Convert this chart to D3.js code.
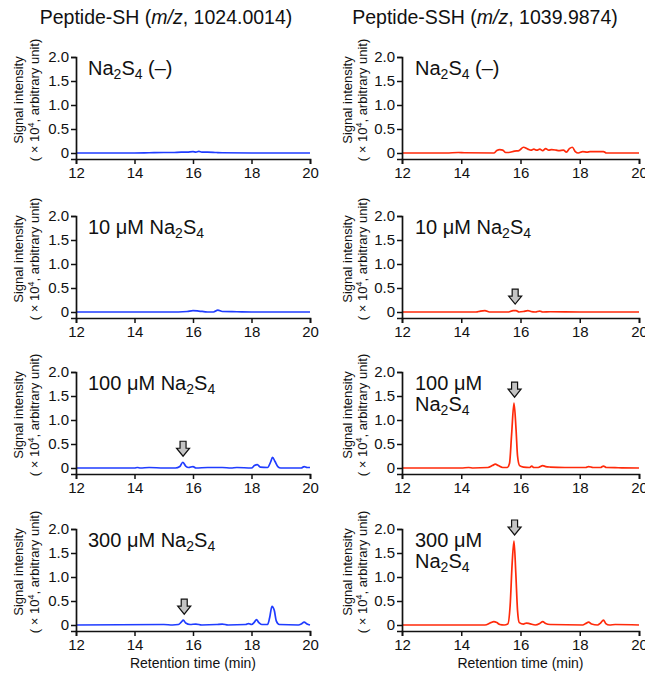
<!DOCTYPE html>
<html>
<head>
<meta charset="utf-8">
<script src="https://cdn.jsdelivr.net/npm/d3@7"></script>
<style>
  body { margin: 0; background: #fff; }
  text { font-family: "Liberation Sans", Arial, sans-serif; fill: #111; }
</style>
</head>
<body>
<div id="chart-container"></div>
<script>
  // Column titles and row conditions
  var columns = ['SH', 'SSH'];
  var rowLabels = [
      [['Na', '2', 'S', '4', ' (\u2013)']],
      [['10 \u03bcM Na', '2', 'S', '4']],
      [['100 \u03bcM Na', '2', 'S', '4']],
      [['300 \u03bcM Na', '2', 'S', '4']]
  ];
  var rowLabelsRight = [
      [['Na', '2', 'S', '4', ' (\u2013)']],
      [['10 \u03bcM Na', '2', 'S', '4']],
      [['100 \u03bcM'], ['Na', '2', 'S', '4']],
      [['300 \u03bcM'], ['Na', '2', 'S', '4']]
  ];
  var xTicks = [12, 14, 16, 18, 20];
  var yTicks = [0, 0.5, 1.0, 1.5, 2.0];
  var yTickLabels = ['0', '0.5', '1.0', '1.5', '2.0'];

  // Chromatogram traces: [retention time (min), intensity (x10^4)]
  var sh0 = [[12,0],[14,0],[14.5,0.005],[15,0.01],[15.3,0.01],[15.6,0.02],[15.8,0.02],[16.0,0.03],[16.1,0.02],[16.2,0.035],[16.3,0.02],[16.5,0.02],[16.8,0.01],[17,0.005],[18,0],[20,0]];
  var sh10 = [[12,0],[15.5,0],[15.8,0.01],[16.0,0.03],[16.2,0.02],[16.5,0.0],[16.7,0.0],[16.85,0.04],[17.0,0.01],[17.5,0.005],[18,0],[20,0]];
  var sh100 = [[12,0],[14,0],[14.1,0.01],[14.2,0],[14.5,0.01],[15,0.0],[15.4,0],[15.55,0.03],[15.65,0.12],[15.75,0.04],[15.85,0.01],[16,0.03],[16.1,0],[16.5,0.01],[17,0.01],[17.3,0],[17.5,0.01],[18,0],[18.1,0.05],[18.2,0.07],[18.3,0.02],[18.55,0.01],[18.65,0.12],[18.72,0.22],[18.8,0.14],[18.9,0.03],[19,0.0],[19.7,0.0],[19.8,0.03],[19.9,0.01],[20,0.01]];
  var sh300 = [[12,0],[15,0.01],[15.3,0.0],[15.5,0.01],[15.6,0.06],[15.67,0.1],[15.75,0.04],[15.9,0.01],[16.1,0.02],[16.3,0],[16.8,0.01],[17,0.02],[17.2,0.0],[17.8,0.01],[17.9,0.03],[18.0,0.01],[18.1,0.06],[18.17,0.11],[18.25,0.05],[18.35,0.01],[18.55,0.01],[18.62,0.15],[18.7,0.39],[18.78,0.3],[18.85,0.08],[18.95,0.01],[19.6,0.0],[19.7,0.02],[19.8,0.06],[19.9,0.02],[20,0.0]];

  var ssh0 = [[12,0],[13.5,0],[13.9,0.01],[14.1,0.005],[15.1,0.0],[15.2,0.05],[15.3,0.07],[15.4,0.06],[15.5,0.01],[15.6,0.01],[15.8,0.04],[15.95,0.05],[16.1,0.12],[16.25,0.08],[16.35,0.06],[16.45,0.08],[16.55,0.06],[16.65,0.08],[16.75,0.05],[16.85,0.09],[16.95,0.06],[17.05,0.07],[17.2,0.06],[17.3,0.05],[17.45,0.06],[17.55,0.02],[17.65,0.09],[17.75,0.12],[17.85,0.03],[17.95,0.0],[18.1,0.03],[18.25,0.02],[18.35,0.03],[18.5,0.03],[18.65,0.03],[18.8,0.03],[18.9,0.0],[20,0]];
  var ssh10 = [[12,0],[14.5,0],[14.65,0.02],[14.8,0.03],[14.95,0.0],[15.6,0],[15.75,0.03],[15.85,0.03],[15.95,0.0],[16.1,0.01],[16.25,0.03],[16.35,0.01],[16.5,0.0],[16.65,0.02],[16.75,0.0],[17,0.005],[18,0],[20,0]];
  var ssh100 = [[12,0],[14,0],[14.25,0.01],[14.4,0],[14.9,0.01],[15.05,0.05],[15.15,0.08],[15.25,0.05],[15.4,0.01],[15.55,0.01],[15.63,0.1],[15.7,0.7],[15.78,1.35],[15.85,0.8],[15.9,0.25],[15.97,0.05],[16.1,0.02],[16.3,0.01],[16.38,0.04],[16.45,0.01],[16.6,0.01],[16.75,0.05],[16.85,0.03],[17,0.02],[17.5,0.01],[18.2,0.01],[18.3,0.03],[18.45,0.01],[18.7,0.01],[18.8,0.04],[18.9,0.01],[19.3,0.005],[20,0]];
  var ssh300 = [[12,0],[14.8,0],[15.0,0.05],[15.1,0.07],[15.2,0.05],[15.3,0.01],[15.45,0.0],[15.57,0.02],[15.65,0.4],[15.72,1.3],[15.78,1.75],[15.84,1.1],[15.9,0.3],[15.96,0.05],[16.1,0.02],[16.2,0.04],[16.3,0.03],[16.5,0.0],[16.65,0.03],[16.75,0.07],[16.85,0.03],[17,0.01],[18.1,0.0],[18.2,0.03],[18.3,0.06],[18.4,0.02],[18.6,0.0],[18.7,0.04],[18.8,0.1],[18.88,0.03],[19,0.0],[19.2,0.01],[20,0]];

  var shSeries = [sh0, sh10, sh100, sh300];
  var sshSeries = [ssh0, ssh10, ssh100, ssh300];

  // Arrows marking the peaks: [time, intensity at peak] or null
  var shArrows = [null, null, [15.66, 0.12], [15.7, 0.1]];
  var sshArrows = [null, [15.82, 0.04], [15.8, 1.35], [15.8, 1.75]];

  var width = 645;
  var height = 675;
  var svg = d3.select('#chart-container')
      .append('svg')
      .attr('width', width)
      .attr('height', height);

  // Column titles
  var titles = [
      { x: 166, parts: ['Peptide-SH (', 'm/z', ', 1024.0014)'] },
      { x: 485, parts: ['Peptide-SSH (', 'm/z', ', 1039.9874)'] }
  ];
  titles.forEach(function(t) {
      var txt = svg.append('text')
          .attr('x', t.x).attr('y', 24)
          .attr('text-anchor', 'middle')
          .style('font-size', '19.5px');
      t.parts.forEach(function(p, i) {
          txt.append('tspan').text(p).style('font-style', i === 1 ? 'italic' : 'normal');
      });
  });

  var zeroYs = [153, 312, 468, 625];
  var cols = [
      { x0: 76, x1: 310, series: shSeries, arrows: shArrows, color: '#1f3cff', labels: rowLabels, lx: 88, tOff: [58, 42] },
      { x0: 402, x1: 639, series: sshSeries, arrows: sshArrows, color: '#ff2a0a', labels: rowLabelsRight, lx: 415, tOff: [55, 40] }
  ];

  cols.forEach(function(col, ci) {
      var xScale = d3.scaleLinear().domain([12, 20]).range([col.x0, col.x1]);

      zeroYs.forEach(function(zy, ri) {
          var yScale = d3.scaleLinear().domain([-0.125, 2]).range([zy + 6, zy - 96]);
          var g = svg.append('g');

          // Trace
          var line = d3.line()
              .x(function(d) { return xScale(d[0]); })
              .y(function(d) { return yScale(d[1]); })
              .curve(d3.curveMonotoneX);
          g.append('path')
              .datum(col.series[ri])
              .attr('d', line)
              .attr('fill', 'none')
              .attr('stroke', col.color)
              .attr('stroke-width', 1.7);

          // x-axis
          var xa = g.append('g')
              .attr('transform', 'translate(0,' + (zy + 6) + ')')
              .call(d3.axisBottom(xScale).tickValues(xTicks).tickSizeOuter(0).tickSize(5).tickPadding(3));
          // y-axis
          var ya = g.append('g')
              .attr('transform', 'translate(' + col.x0 + ',0)')
              .call(d3.axisLeft(yScale).tickValues(yTicks).tickSizeOuter(0).tickSize(5).tickPadding(2)
                  .tickFormat(function(d, i) { return yTickLabels[i]; }));
          [xa, ya].forEach(function(a) {
              a.select('.domain').attr('stroke', '#111').attr('stroke-width', 1.7);
              a.selectAll('.tick line').attr('stroke', '#111').attr('stroke-width', 1.5);
              a.selectAll('.tick text').style('font-size', '15px').attr('fill', '#111')
                  .style('font-family', '"Liberation Sans", Arial, sans-serif');
          });

          // y-axis title (two lines)
          var cy = zy - 53;
          [['Signal intensity'], ['( \u00d7 10', '4', ', arbitrary unit)']].forEach(function(parts, li) {
              var tx = col.x0 - col.tOff[li];
              var t = g.append('text')
                  .attr('transform', 'translate(' + tx + ',' + cy + ') rotate(-90)')
                  .attr('text-anchor', 'middle')
                  .attr('dy', '0.35em')
                  .style('font-size', '13px');
              parts.forEach(function(p, pi) {
                  var s = t.append('tspan').text(p);
                  if (pi === 1) s.attr('baseline-shift', 'super').style('font-size', '9px');
              });
          });

          // Condition label
          col.labels[ri].forEach(function(parts, li) {
              var t = g.append('text')
                  .attr('x', col.lx)
                  .attr('y', zy - 78 + li * 21)
                  .style('font-size', '20px');
              parts.forEach(function(p, pi) {
                  var s = t.append('tspan').text(p);
                  if (pi === 1 || pi === 3) s.style('font-size', '14px').attr('dy', 4);
                  else if (pi === 2 || pi === 4) s.attr('dy', -4);
              });
          });

          // Arrow marking peak
          var ar = col.arrows[ri];
          if (ar) {
              var ax = xScale(ar[0]);
              var tip = yScale(ar[1]) - 6;
              var pts = [[-3, -15], [3, -15], [3, -8], [6.5, -8], [0, 0], [-6.5, -8], [-3, -8]];
              g.append('polygon')
                  .attr('points', pts.map(function(p) { return (ax + p[0]) + ',' + (tip + p[1]); }).join(' '))
                  .attr('fill', '#c4c4c4')
                  .attr('stroke', '#111')
                  .attr('stroke-width', 1.2);
          }
      });

      // x-axis title
      svg.append('text')
          .attr('x', (col.x0 + col.x1) / 2)
          .attr('y', 668)
          .attr('text-anchor', 'middle')
          .style('font-size', '14px')
          .text('Retention time (min)');
  });
</script>
</body>
</html>
